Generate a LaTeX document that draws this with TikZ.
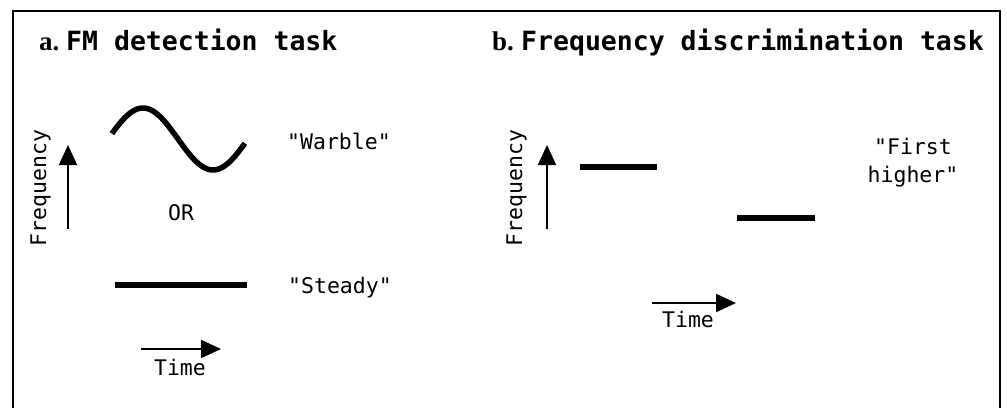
\documentclass[tikz,border=0pt]{standalone}
\usepackage{fontspec}
\usetikzlibrary{arrows.meta}
\newfontfamily\monofont{DejaVu Sans Mono}
\newfontfamily\labelserif{Liberation Serif}
\tikzset{
  frameline/.style={line width=2.5pt},
  axisarrow/.style={line width=2pt,-{Triangle[width=18pt,length=20pt]}},
  timearrow/.style={line width=2pt,-{Triangle[width=18pt,length=20pt]}},
  toneline/.style={line width=5.5pt},
  paneltag/.style={inner sep=0pt,anchor=base west,font=\labelserif\bfseries\fontsize{27}{30}\selectfont},
  paneltitle/.style={inner sep=0pt,anchor=base west,font=\monofont\bfseries\fontsize{26.5}{30}\selectfont},
  lbl/.style={inner sep=0pt,font=\monofont\fontsize{21.5}{28}\selectfont},
  freqlbl/.style={lbl,rotate=90,anchor=base}
}
\begin{document}
\begin{tikzpicture}[x=1pt,y=-1pt]
\useasboundingbox (0,0) rectangle (1007,408);
% open frame (no bottom edge)
\draw[frameline] (13,408) -- (13,11) -- (1000,11) -- (1000,408);

% ---- panel a: FM detection ----
\node[paneltag] (taga) at (39,50) {a.};
\node[paneltitle] (titlea) at (66,50) {FM detection task};

\coordinate (fa0) at (68,229);
\coordinate (fa1) at (68,145);
\draw[axisarrow] (fa0) -- (fa1);
\node[freqlbl] (freqa) at (46,188) {Frequency};

% one period of the warbling tone
\draw[toneline,line join=round] plot[variable=\t,domain=-80:262,samples=70]
  ({143+0.3889*\t},{139-31*cos(\t)});
\node[lbl,anchor=base west] (warble) at (287,149) {"Warble"};
\node[lbl,anchor=base] (or) at (181,220) {OR};

\coordinate (sa0) at (115,285);
\coordinate (sa1) at (247,285);
\draw[toneline] (sa0) -- (sa1);
\node[lbl,anchor=base west] (steady) at (288,293) {"Steady"};

\coordinate (ta0) at (141,349);
\coordinate (ta1) at (221,349);
\draw[timearrow] (ta0) -- (ta1);
\node[lbl,anchor=base] (timea) at (180,375) {Time};

% ---- panel b: frequency discrimination ----
\node[paneltag] (tagb) at (492,50) {b.};
\node[paneltitle] (titleb) at (521,50) {Frequency discrimination task};

\coordinate (fb0) at (547,229);
\coordinate (fb1) at (547,145);
\draw[axisarrow] (fb0) -- (fb1);
\node[freqlbl] (freqb) at (522,188) {Frequency};

\coordinate (b1a) at (580,167);
\coordinate (b1b) at (657,167);
\draw[toneline] (b1a) -- (b1b);
\coordinate (b2a) at (737,218);
\coordinate (b2b) at (815,218);
\draw[toneline] (b2a) -- (b2b);

\node[lbl,anchor=base,align=center] (first) at (913,182) {"First\\higher"};

\coordinate (tb0) at (652,303);
\coordinate (tb1) at (736,303);
\draw[timearrow] (tb0) -- (tb1);
\node[lbl,anchor=base] (timeb) at (688,327) {Time};
\end{tikzpicture}
\end{document}
